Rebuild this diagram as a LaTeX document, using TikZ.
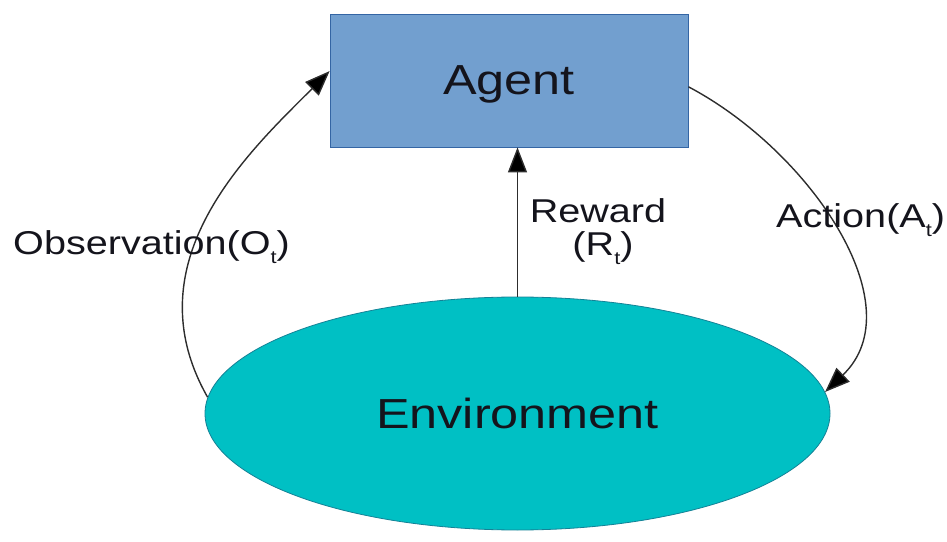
\documentclass[tikz,border=0pt]{standalone}
\usepackage{fontspec}
\setmainfont{Liberation Sans}[FakeStretch=1.2]
\usetikzlibrary{arrows.meta,shapes.geometric}
\definecolor{agentblue}{HTML}{729FCF}
\definecolor{agentedge}{HTML}{3465A4}
\definecolor{envcyan}{RGB}{0,192,196}
\definecolor{envedge}{RGB}{20,130,150}
\definecolor{ink}{RGB}{20,20,28}
\definecolor{wire}{RGB}{45,45,45}
% small lowered "t" used as a subscript in the labels
\newcommand{\subt}{\raisebox{-0.25em}{\scalebox{0.55}{t}}}
\begin{document}
\begin{tikzpicture}[x=1pt,y=1pt,
  agentbox/.style={rectangle, draw=agentedge, line width=0.8pt, fill=agentblue,
    minimum width=358, minimum height=133, inner sep=0, text depth=0pt,
    font=\fontsize{42}{48}\selectfont, text=ink},
  envbox/.style={ellipse, draw=envedge, line width=0.8pt, fill=envcyan,
    minimum width=625, minimum height=233, inner sep=0, text depth=0pt,
    font=\fontsize{42}{48}\selectfont, text=ink},
  flow/.style={draw=wire, line width=1.4pt,
    -{Triangle[length=25pt,width=19pt,fill=black]}},
  lbl/.style={font=\fontsize{33}{38}\selectfont, text=ink, inner sep=0}]
\useasboundingbox (0,0) rectangle (947,541);

% the two blocks
\node[agentbox] (agent) at (509,460.5) {Agent};
\node[envbox] (env) at (517.5,127.5) {Environment};

% the loop between them
\draw[flow] (env.177) .. controls (130,280) and (250,390) .. (agent.177);
\draw[flow] (agent.-2.5) .. controls (810,390) and (915,235) .. (env.4);
\draw[flow] (env.north) -- (agent.south -| env.north);

% signal labels
\node[lbl, anchor=base] (reward) at (598,318) {Reward};
\node[lbl, anchor=base] (rewardsym) at (603,285) {(R\subt)};
\node[lbl, anchor=base west] (action) at (776,313) {Action(A\subt)};
\node[lbl, anchor=base west] (obs) at (13,286) {Observation(O\subt)};
\end{tikzpicture}
\end{document}
